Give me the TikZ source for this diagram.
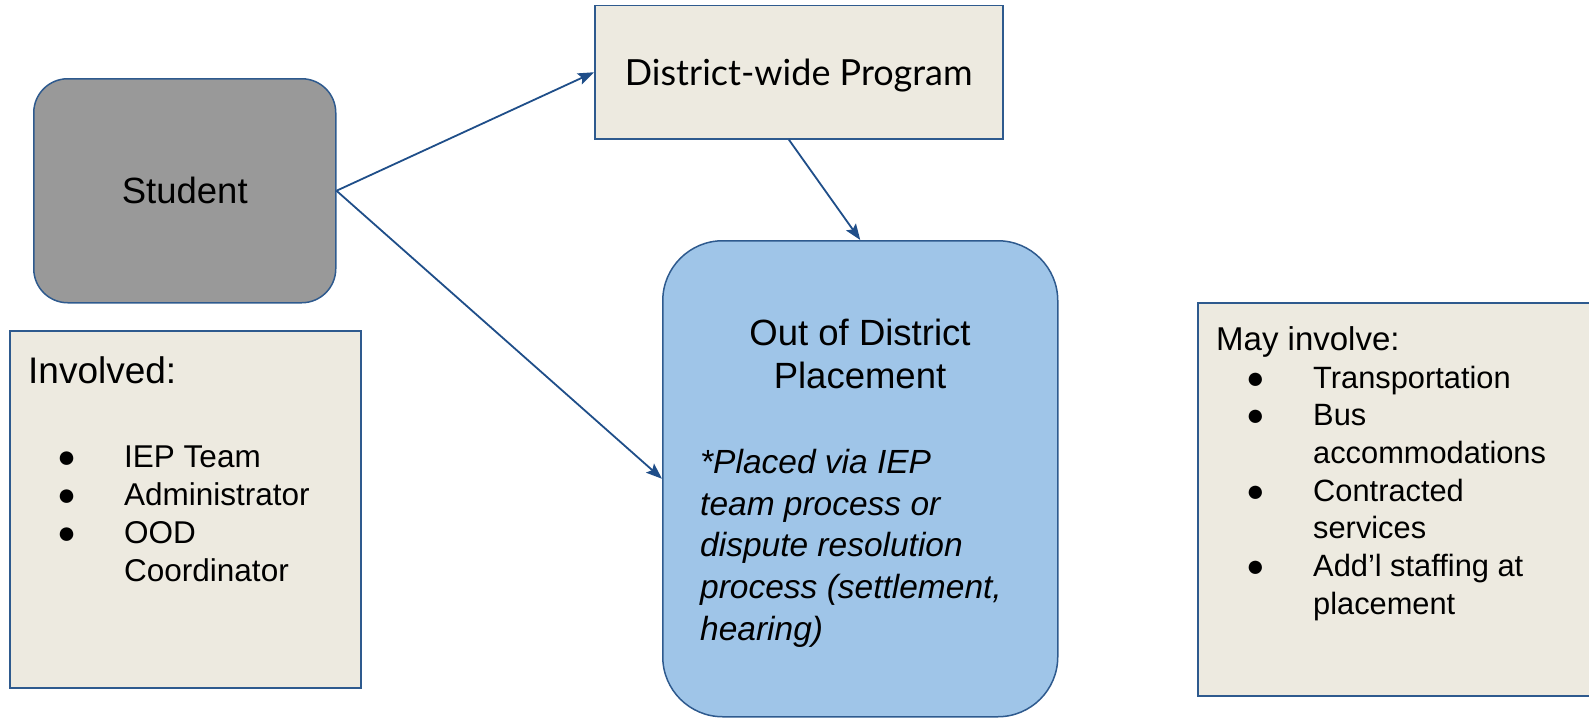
\documentclass[tikz,border=0pt]{standalone}
\usepackage{fontspec}
\setmainfont{Liberation Sans}
\newfontfamily\progfont{Lato}
\usetikzlibrary{arrows.meta}
\definecolor{rand}{HTML}{2E5A8E}
\definecolor{pfeilfarbe}{HTML}{1F4E89}
\definecolor{grau}{HTML}{999999}
\definecolor{beige}{HTML}{EDEAE0}
\definecolor{hellblau}{HTML}{9FC5E8}
\tikzset{
	kasten/.style={draw=rand, line width=1.5pt, inner sep=0pt, anchor=north west},
	pfeil/.style={draw=pfeilfarbe, line width=1.8pt, -{Stealth[length=16pt,width=12pt,inset=3pt]}},
	liste/.style={anchor=base west, inner sep=0pt, align=left},
}

\begin{document}
\begin{tikzpicture}[x=1pt,y=-1pt]
	\useasboundingbox (0,0) rectangle (1589,717);
	\clip (0,0) rectangle (1589,717);
	% Kaesten
	\node [kasten, fill=grau, rounded corners=34pt, minimum width=302pt, minimum height=224pt] (student) at (33,78) {\fontsize{36.5}{44}\selectfont Student};
	\node [kasten, fill=beige, minimum width=408pt, minimum height=133pt, text depth=0pt] (district) at (594,5) {\progfont\fontsize{36}{44}\selectfont District-wide Program};
	\node [kasten, fill=hellblau, rounded corners=60pt, minimum width=395pt, minimum height=476pt] (ood) at (662,240) {};
	\node [kasten, fill=beige, minimum width=351pt, minimum height=357pt] (involviert) at (9,330) {};
	\node [kasten, fill=beige, minimum width=420pt, minimum height=393pt] (moeglich) at (1197,302) {};
	% Texte (Grundlinie der letzten Zeile)
	\node [liste, align=center, anchor=base, font=\fontsize{36.5}{43}\selectfont] (oodtitel) at (860,388) {Out of District\\Placement};
	\node [liste, font=\fontsize{33.5}{41.6}\selectfont\itshape] (oodtext) at (700,640) {*Placed via IEP\\team process or\\dispute resolution\\process (settlement,\\hearing)};
	\node [liste, font=\fontsize{37}{43}\selectfont] (invtitel) at (28,383) {Involved:};
	\node [liste, font=\fontsize{31.5}{38}\selectfont] (invliste) at (57,467) {\begin{tabular}[t]{@{}p{67pt}@{}l@{}}
		● & IEP Team\\
		● & Administrator\\
		● & OOD\\
		  & Coordinator
	\end{tabular}};
	\node [liste, font=\fontsize{33}{38}\selectfont] (moetitel) at (1216,350) {May involve:};
	\node [liste, font=\fontsize{30.8}{37.7}\selectfont] (moeliste) at (1246,388) {\begin{tabular}[t]{@{}p{67pt}@{}l@{}}
		● & Transportation\\
		● & Bus\\
		  & accommodations\\
		● & Contracted\\
		  & services\\
		● & Add’l staffing at\\
		  & placement
	\end{tabular}};
	% Pfeile
	\draw [pfeil] (student.east) -- (district.west);
	\draw [pfeil] (student.east) -- (ood.west);
	\draw [pfeil] ([xshift=-10pt]district.south) -- (ood.north);
\end{tikzpicture}
\end{document}
